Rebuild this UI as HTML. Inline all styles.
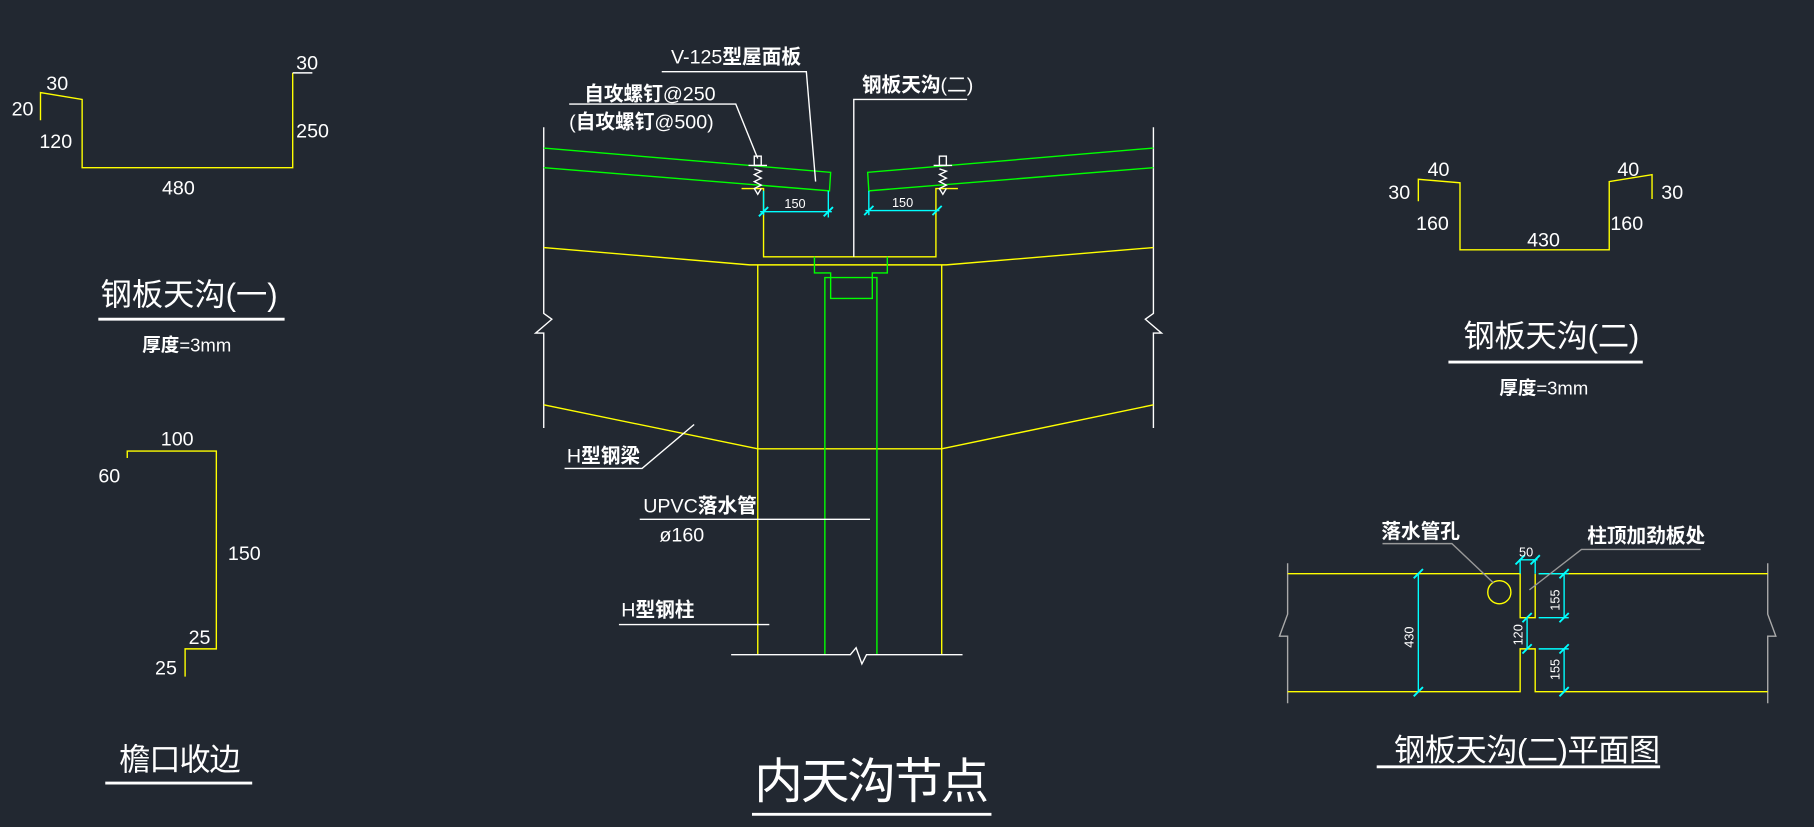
<!DOCTYPE html>
<html><head><meta charset="utf-8"><style>
html,body{margin:0;padding:0;background:#222831;}
svg{display:block}
text{font-family:"Liberation Sans","Noto Sans CJK SC",sans-serif;fill:#fff}
</style></head><body>
<svg width="1814" height="827" viewBox="0 0 1568 715" preserveAspectRatio="none" xmlns="http://www.w3.org/2000/svg">
<rect width="1568" height="715" fill="#222831"/>
<g fill="none" stroke-width="1.2">
<polyline points="35,104 35,80 71,86 71,145 253,145 253,63" stroke="#ffff00"/>
<line x1="253" y1="63" x2="270" y2="63" stroke="#fff"/>
<line x1="85" y1="276" x2="246" y2="276" stroke="#fff" stroke-width="2.5"/>
<polyline points="110,396 110,390 187,390 187,561 160,561 160,585" stroke="#ffff00"/>
<line x1="91" y1="677" x2="218" y2="677" stroke="#fff" stroke-width="2.5"/>
<polyline points="1226,174 1226,155 1262,158 1262,216 1391,216 1391,157 1428,151 1428,172" stroke="#ffff00"/>
<line x1="1252" y1="313" x2="1420" y2="313" stroke="#fff" stroke-width="2.5"/>

<polyline points="470,110 470,271 477,276 463,288 470,288 470,370" stroke="#fff"/>
<polyline points="997,110 997,271 990,276 1004,288 997,288 997,370" stroke="#fff"/>
<polyline points="470,128 718,149 717,165 470,145" stroke="#00ff00"/>
<polyline points="997,128 750,149 751,165 997,145" stroke="#00ff00"/>
<polyline points="641,163 660,163 660,222 809,222 809,163 828,163" stroke="#ffff00"/>
<polyline points="470,214 648,229 818,229 997,214" stroke="#ffff00"/>
<polyline points="470,350 655,388 814,388 997,350" stroke="#ffff00"/>
<line x1="655" y1="229" x2="655" y2="566" stroke="#ffff00"/>
<line x1="814" y1="229" x2="814" y2="566" stroke="#ffff00"/>
<polyline points="704,222 704,236 718,236 718,258 754,258 754,236 767,236 767,222" stroke="#00ff00"/>
<polyline points="713,566 713,240 758,240 758,566" stroke="#00ff00"/>
<polyline points="632,566 735,566 740,560 745,574 749,566 832,566" stroke="#fff"/>
<line x1="657" y1="183" x2="719" y2="183" stroke="#00ffff"/>
<line x1="660" y1="165" x2="660" y2="186" stroke="#00ffff"/>
<line x1="716" y1="165" x2="716" y2="188" stroke="#00ffff"/>
<line x1="748" y1="182" x2="812" y2="182" stroke="#00ffff"/>
<line x1="751" y1="165" x2="751" y2="186" stroke="#00ffff"/>
<g stroke="#00ffff" stroke-width="1.6"><line x1="656" y1="187" x2="664" y2="179"/><line x1="712" y1="187" x2="720" y2="179"/><line x1="747" y1="186" x2="755" y2="178"/><line x1="806" y1="186" x2="814" y2="178"/></g>
<g stroke="#fff">
<rect x="652" y="135" width="6" height="8"/><line x1="647" y1="143" x2="663" y2="143"/><polyline points="652,146 658,148 652,151 658,154 652,157 658,160 652,163 655,168 658,163"/>
<rect x="812" y="135" width="6" height="8"/><line x1="807" y1="143" x2="823" y2="143"/><polyline points="812,146 818,148 812,151 818,154 812,157 818,160 812,163 815,168 818,163"/>
</g>
<g stroke="#fff">
<polyline points="572,62 697,62 705,157"/>
<polyline points="492,90 636,90 655,137"/>
<polyline points="738,222 738,86 836,86"/>
<polyline points="488,405 555,405 600,367"/>
<line x1="553" y1="449" x2="752" y2="449"/>
<line x1="535" y1="540" x2="665" y2="540"/>
</g>
<line x1="650" y1="704" x2="857" y2="704" stroke="#fff" stroke-width="2.5"/>

<polyline points="1113,487 1113,531 1106,550 1113,550 1113,608" stroke="#aaa"/>
<polyline points="1528,487 1528,531 1535,550 1528,550 1528,608" stroke="#aaa"/>
<polyline points="1113,496 1314,496 1314,534 1327,534 1327,496" stroke="#ffff00"/>
<line x1="1330" y1="496" x2="1528" y2="496" stroke="#ffff00"/>
<polyline points="1113,598 1314,598 1314,561 1327,561 1327,598 1528,598" stroke="#ffff00"/>
<ellipse cx="1296" cy="512" rx="10" ry="10" stroke="#ffff00"/>
<g stroke="#00ffff">
<line x1="1226" y1="496" x2="1226" y2="598"/>
<line x1="1313" y1="484" x2="1329" y2="484"/><line x1="1314" y1="484" x2="1314" y2="496"/><line x1="1327" y1="484" x2="1327" y2="496"/>
<line x1="1352" y1="496" x2="1352" y2="534"/><line x1="1330" y1="496" x2="1356" y2="496"/><line x1="1330" y1="534" x2="1356" y2="534"/>
<line x1="1320" y1="534" x2="1320" y2="561"/>
<line x1="1352" y1="561" x2="1352" y2="598"/><line x1="1330" y1="561" x2="1356" y2="561"/>
</g>
<g stroke="#00ffff" stroke-width="1.6">
<line x1="1222" y1="500" x2="1230" y2="492"/><line x1="1222" y1="602" x2="1230" y2="594"/>
<line x1="1310" y1="488" x2="1318" y2="480"/><line x1="1323" y1="488" x2="1331" y2="480"/>
<line x1="1348" y1="500" x2="1356" y2="492"/><line x1="1348" y1="538" x2="1356" y2="530"/>
<line x1="1316" y1="538" x2="1324" y2="530"/><line x1="1316" y1="565" x2="1324" y2="557"/>
<line x1="1348" y1="565" x2="1356" y2="557"/><line x1="1348" y1="602" x2="1356" y2="594"/>
</g>
<polyline points="1195,470 1255,470 1291,504" stroke="#999"/>
<polyline points="1470,475 1367,475 1322,510" stroke="#999"/>
<line x1="1190" y1="663" x2="1435" y2="663" stroke="#fff" stroke-width="2.5"/>
</g>

<g font-size="17">
<text x="10" y="100">20</text><text x="40" y="78">30</text><text x="34" y="128">120</text>
<text x="140" y="168">480</text><text x="256" y="60">30</text><text x="256" y="119">250</text>
<text x="139" y="385">100</text><text x="85" y="417">60</text><text x="197" y="484">150</text>
<text x="163" y="557">25</text><text x="134" y="583">25</text>
<text x="1200" y="172">30</text><text x="1234" y="152">40</text><text x="1398" y="152">40</text><text x="1436" y="172">30</text>
<text x="1224" y="199">160</text><text x="1392" y="199">160</text><text x="1320" y="213">430</text>
<text x="580" y="55">V-125<tspan font-weight="bold">型屋面板</tspan></text>
<text x="505" y="87" font-weight="bold">自攻螺钉<tspan font-weight="normal">@250</tspan></text>
<text x="492" y="111">(<tspan font-weight="bold">自攻螺钉</tspan>@500)</text>
<text x="745" y="79" font-weight="bold">钢板天沟<tspan font-weight="normal">(二)</tspan></text>
<text x="490" y="400">H<tspan font-weight="bold">型钢梁</tspan></text>
<text x="556" y="443">UPVC<tspan font-weight="bold">落水管</tspan></text>
<text x="570" y="468">ø160</text>
<text x="537" y="533">H<tspan font-weight="bold">型钢柱</tspan></text>
<text x="1194" y="465" font-weight="bold">落水管孔</text>
<text x="1372" y="469" font-weight="bold">柱顶加劲板处</text>
</g>
<g font-size="11">
<text x="678" y="180">150</text><text x="771" y="179">150</text>
<text x="1313" y="481">50</text>
<text transform="translate(1222,560) rotate(-90)">430</text>
<text transform="translate(1348,528) rotate(-90)">155</text>
<text transform="translate(1316,558) rotate(-90)">120</text>
<text transform="translate(1348,588) rotate(-90)">155</text>
</g>
<g font-size="16"><text x="123" y="304" font-weight="bold">厚度<tspan font-weight="normal">=3mm</tspan></text>
<text x="1296" y="341" font-weight="bold">厚度<tspan font-weight="normal">=3mm</tspan></text></g>
<g font-size="27">
<text x="87" y="264" textLength="153">钢板天沟(一)</text>
<text x="103" y="666" textLength="105">檐口收边</text>
<text x="1265" y="300" textLength="152">钢板天沟(二)</text>
<text x="1205" y="658" textLength="230">钢板天沟(二)平面图</text>
</g>
<text x="652" y="690" font-size="42" textLength="203">内天沟节点</text>
</svg>
</body></html>
